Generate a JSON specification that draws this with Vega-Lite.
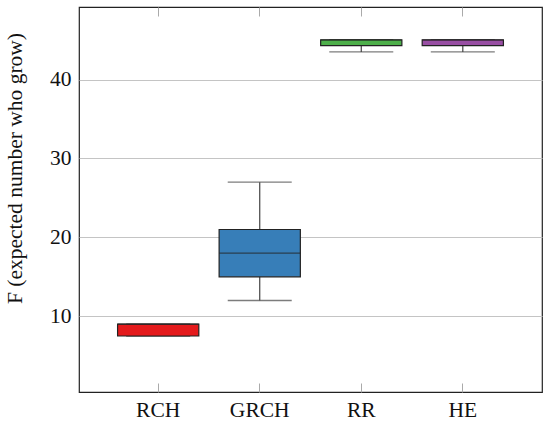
{
  "$schema": "https://vega.github.io/schema/vega-lite/v6.json",
  "autosize": {"type": "none"},
  "width": 463,
  "height": 385,
  "padding": {"left": 79, "top": 7, "right": 8, "bottom": 31},
  "background": "white",
  "config": {
    "view": {"stroke": "#222222", "strokeWidth": 1.2},
    "font": "Liberation Serif",
    "axis": {"labelFont": "Liberation Serif", "titleFont": "Liberation Serif", "labelFontSize": 21.5, "titleFontSize": 21.5, "labelColor": "#111111", "titleColor": "#111111", "titleFontWeight": "normal"}
  },
  "data": {"values": [
    {"group": "RCH", "lower": 7.5, "q1": 7.5, "median": 9, "q3": 9, "upper": 9},
    {"group": "GRCH", "lower": 12, "q1": 15, "median": 18, "q3": 21, "upper": 27},
    {"group": "RR", "lower": 43.5, "q1": 44.3, "median": 45, "q3": 45.05, "upper": 45.05},
    {"group": "HE", "lower": 43.5, "q1": 44.3, "median": 45, "q3": 45.05, "upper": 45.05}
  ]},
  "resolve": {"axis": {"x": "independent"}},
  "layer": [
    {
      "mark": {"type": "rule", "color": "#444444", "strokeWidth": 1.2},
      "encoding": {
        "x": {"field": "group", "type": "nominal", "sort": ["RCH", "GRCH", "RR", "HE"], "scale": {"paddingInner": 0, "paddingOuter": 0.28}, "axis": null},
        "y": {"field": "lower", "type": "quantitative", "scale": {"domain": [0.4, 49.2], "nice": false, "zero": false}, "axis": {"title": "F (expected number who grow)", "values": [10, 20, 30, 40], "grid": true, "gridColor": "#c4c4c4", "gridWidth": 1, "ticks": false, "domain": false, "labelPadding": 8, "titleAngle": -90, "titleX": -58, "titleY": 161, "titleAlign": "center", "titleBaseline": "alphabetic"}},
        "y2": {"field": "q1"}
      }
    },
    {
      "mark": {"type": "rule", "color": "#444444", "strokeWidth": 1.2},
      "encoding": {
        "x": {"field": "group", "type": "nominal", "sort": ["RCH", "GRCH", "RR", "HE"], "axis": null},
        "y": {"field": "q3", "type": "quantitative", "axis": {"title": "F (expected number who grow)", "values": [10, 20, 30, 40], "grid": true, "gridColor": "#c4c4c4", "gridWidth": 1, "ticks": false, "domain": false, "labelPadding": 8, "titleAngle": -90, "titleX": -58, "titleY": 161, "titleAlign": "center", "titleBaseline": "alphabetic"}},
        "y2": {"field": "upper"}
      }
    },
    {
      "mark": {"type": "tick", "color": "#444444", "size": 64, "thickness": 1.3},
      "encoding": {
        "x": {"field": "group", "type": "nominal", "sort": ["RCH", "GRCH", "RR", "HE"], "axis": null},
        "y": {"field": "lower", "type": "quantitative", "axis": {"title": "F (expected number who grow)", "values": [10, 20, 30, 40], "grid": true, "gridColor": "#c4c4c4", "gridWidth": 1, "ticks": false, "domain": false, "labelPadding": 8, "titleAngle": -90, "titleX": -58, "titleY": 161, "titleAlign": "center", "titleBaseline": "alphabetic"}}
      }
    },
    {
      "mark": {"type": "tick", "color": "#444444", "size": 64, "thickness": 1.3},
      "encoding": {
        "x": {"field": "group", "type": "nominal", "sort": ["RCH", "GRCH", "RR", "HE"], "axis": null},
        "y": {"field": "upper", "type": "quantitative", "axis": {"title": "F (expected number who grow)", "values": [10, 20, 30, 40], "grid": true, "gridColor": "#c4c4c4", "gridWidth": 1, "ticks": false, "domain": false, "labelPadding": 8, "titleAngle": -90, "titleX": -58, "titleY": 161, "titleAlign": "center", "titleBaseline": "alphabetic"}}
      }
    },
    {
      "mark": {"type": "bar", "width": {"band": 0.8}, "stroke": "#222222", "strokeWidth": 1.2},
      "encoding": {
        "x": {"field": "group", "type": "nominal", "sort": ["RCH", "GRCH", "RR", "HE"], "axis": {"orient": "bottom", "title": null, "labelAngle": 0, "domain": false, "tickSize": -9, "tickColor": "#aaaaaa", "tickWidth": 1, "labelPadding": 16, "labelBaseline": "top"}},
        "y": {"field": "q1", "type": "quantitative", "axis": {"title": "F (expected number who grow)", "values": [10, 20, 30, 40], "grid": true, "gridColor": "#c4c4c4", "gridWidth": 1, "ticks": false, "domain": false, "labelPadding": 8, "titleAngle": -90, "titleX": -58, "titleY": 161, "titleAlign": "center", "titleBaseline": "alphabetic"}},
        "y2": {"field": "q3"},
        "color": {"field": "group", "type": "nominal", "scale": {"domain": ["RCH", "GRCH", "RR", "HE"], "range": ["#e41a1c", "#377eb8", "#4daf4a", "#984ea3"]}, "legend": null}
      }
    },
    {
      "mark": {"type": "tick", "color": "#222222", "size": 81, "thickness": 1.4},
      "encoding": {
        "x": {"field": "group", "type": "nominal", "sort": ["RCH", "GRCH", "RR", "HE"], "axis": {"orient": "top", "title": null, "labels": false, "domain": false, "tickSize": -9, "tickColor": "#aaaaaa", "tickWidth": 1}},
        "y": {"field": "median", "type": "quantitative", "axis": {"title": "F (expected number who grow)", "values": [10, 20, 30, 40], "grid": true, "gridColor": "#c4c4c4", "gridWidth": 1, "ticks": false, "domain": false, "labelPadding": 8, "titleAngle": -90, "titleX": -58, "titleY": 161, "titleAlign": "center", "titleBaseline": "alphabetic"}}
      }
    }
  ]
}
